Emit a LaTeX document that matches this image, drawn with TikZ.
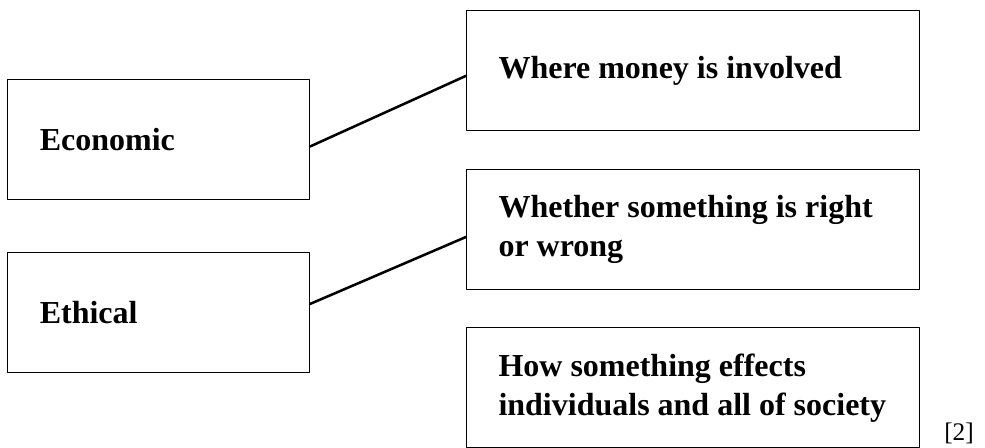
\documentclass[tikz,border=0pt]{standalone}
\usepackage{fontspec}
\setmainfont{Liberation Serif}
\usepackage{tikz}
\hyphenpenalty=10000
\exhyphenpenalty=10000

\begin{document}
\begin{tikzpicture}[
			x=0.75pt,
			y=-0.75pt,
			line cap=round,
			line join=round,
			termbox/.style={draw, line width=0.75pt, anchor=north west, align=flush left,
				inner xsep=24pt, minimum height=90pt, text width=178.3pt,
				font=\fontsize{24}{29}\selectfont\bfseries},
			meaningbox/.style={termbox, text width=291.75pt},
			link/.style={line width=1.9pt}
			]
			\useasboundingbox (0,0) rectangle (985,448);
			
			% Terms on the left
			\node[termbox] (economic) at (7.3,79) {Economic};
			\node[termbox] (ethical) at (7.3,252) {Ethical};
			
			% Meanings on the right
			\node[meaningbox] (money) at (466,10) {Where money is involved};
			\node[meaningbox] (rightwrong) at (466,169) {Whether something is right\\or wrong};
			\node[meaningbox] (society) at (466,327.5) {How something effects\\individuals and all of society};
			
			% Matching lines
			\draw[link] ([yshift=-5.25pt]economic.east) -- ([yshift=-4pt]money.west);
			\draw[link] ([yshift=6.4pt]ethical.east) -- ([yshift=-5.6pt]rightwrong.west);
			
			% Marks
			\node[anchor=base west, inner sep=0pt, font=\fontsize{19}{23}\selectfont] (marks) at (944,441) {[2]};
		\end{tikzpicture}
\end{document}
